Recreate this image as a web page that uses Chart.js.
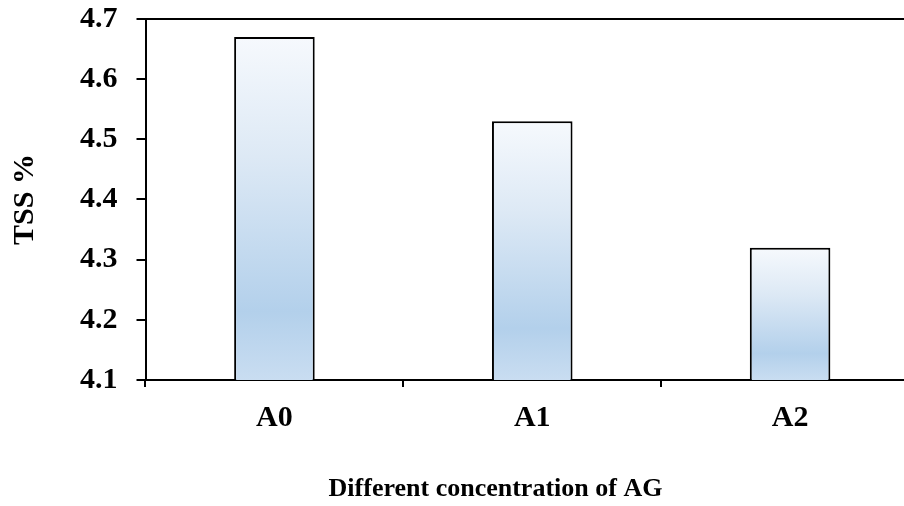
<!DOCTYPE html>
<html lang="en">
<head>
  <meta charset="UTF-8" />
  <title>TSS %</title>
  <script src="https://cdn.jsdelivr.net/npm/chart.js"></script>
  <style>
    html, body { margin: 0; padding: 0; background: #fff; overflow: hidden; }
    .wrap { width: 920px; height: 524px; margin-top: -18px; }
  </style>
</head>
<body>
  <div class="wrap"><canvas id="tssChart" width="920" height="524"></canvas></div>
  <script>
    const categories = ['A0', 'A1', 'A2'];
    const tssValues = [4.67, 4.53, 4.32];
    const yMin = 4.1;
    const yMax = 4.7;
    const yStep = 0.1;

    const font = 'Liberation Serif, Times New Roman, serif';
    const xTitle = 'Different concentration of AG';

    // vertical gradient per bar, top almost white, blue near the bottom
    function barFill(context) {
      const chart = context.chart;
      const y = chart.scales.y;
      if (!y || !chart.chartArea) return '#c6dbef';
      const top = y.getPixelForValue(context.raw);
      const bottom = y.getPixelForValue(yMin);
      const g = chart.ctx.createLinearGradient(0, top, 0, bottom);
      g.addColorStop(0, '#f6f9fd');
      g.addColorStop(0.35, '#dde9f5');
      g.addColorStop(0.8, '#b3d0eb');
      g.addColorStop(1, '#c9ddf1');
      return g;
    }

    // top border of the plot area + x title (sits a bit left of the axis centre, like the original)
    const frame = {
      id: 'frame',
      afterDraw(chart) {
        const a = chart.chartArea;
        const ctx = chart.ctx;
        ctx.save();
        ctx.strokeStyle = '#000';
        ctx.lineWidth = 2;
        ctx.beginPath();
        ctx.moveTo(a.left, a.top);
        ctx.lineTo(a.right, a.top);
        ctx.stroke();
        ctx.fillStyle = '#000';
        ctx.font = 'bold 26px ' + font;
        ctx.textAlign = 'center';
        ctx.textBaseline = 'middle';
        ctx.fillText(xTitle, a.left + 350, chart.height - 17);
        ctx.restore();
      }
    };

    new Chart(document.getElementById('tssChart'), {
      type: 'bar',
      data: {
        labels: categories,
        datasets: [{
          data: tssValues,
          backgroundColor: barFill,
          borderColor: '#000',
          borderWidth: 2,
          borderSkipped: false,
          categoryPercentage: 1,
          barPercentage: 0.3125
        }]
      },
      options: {
        responsive: false,
        animation: false,
        layout: { padding: { left: 0, right: 1, top: 1, bottom: 57 } },
        plugins: { legend: { display: false }, tooltip: { enabled: false } },
        scales: {
          x: {
            grid: { drawOnChartArea: false, drawTicks: true, tickLength: 7, color: '#000', lineWidth: 2, offset: true },
            border: { display: true, color: '#000', width: 2 },
            ticks: { color: '#000', font: { family: font, size: 30, weight: 'bold' }, padding: 13 }
          },
          y: {
            min: yMin,
            max: yMax,
            grid: { drawOnChartArea: false, drawTicks: true, tickLength: 9, color: '#000', lineWidth: 2 },
            border: { display: true, color: '#000', width: 2 },
            ticks: {
              stepSize: yStep,
              color: '#000',
              padding: 19,
              font: { family: font, size: 30, weight: 'bold' },
              callback: v => Number(v).toFixed(1)
            },
            title: {
              display: true,
              text: 'TSS %',
              color: '#000',
              font: { family: font, size: 30, weight: 'bold' },
              padding: { top: 7, bottom: 18 }
            }
          }
        }
      },
      plugins: [frame]
    });
  </script>
</body>
</html>
